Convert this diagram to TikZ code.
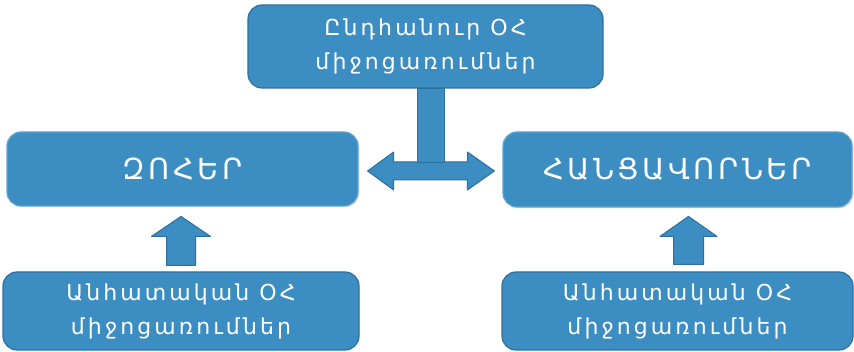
\documentclass[tikz,border=0pt]{standalone}
\usepackage{fontspec}
\newfontfamily\armfont[LetterSpace=14]{DejaVu Sans}
\newfontfamily\armcaps[LetterSpace=12]{DejaVu Sans}
\usetikzlibrary{calc}
\usetikzlibrary{shadows}
\definecolor{boxblue}{RGB}{60,141,193}
\definecolor{boxedge}{RGB}{45,112,158}

\begin{document}
\begin{tikzpicture}[x = 1pt, y = -1pt, line join = round,
  box/.style = {fill = boxblue, draw = boxedge, line width = 1.2pt,
    rounded corners = 14pt, inner sep = 0, text = white, align = center,
    font = \armfont\fontsize{22}{34}\selectfont},
  title/.style = {box, draw = boxblue!80!white,
    font = \armcaps\fontsize{29}{30}\selectfont,
    drop shadow = {shadow xshift = 1.5pt, shadow yshift = -1.5pt,
      fill = black!20}},
  blockarrow/.style = {fill = boxblue, draw = boxedge, line width = 1pt}]
  \useasboundingbox (0, 0) rectangle (854, 352);

  \node[box, minimum width = 355, minimum height = 83] (common)
  at (425.5, 46.5) {Ընդհանուր ՕՀ\\միջոցառումներ};
  \node[title, minimum width = 351, minimum height = 74] (victims)
  at (182.5, 169) {ԶՈՀԵՐ};
  \node[title, minimum width = 349, minimum height = 75] (criminals)
  at (677.5, 169.5) {ՀԱՆՑԱՎՈՐՆԵՐ};
  \node[box, minimum width = 356, minimum height = 78] (indleft)
  at (181, 311) {Անհատական ՕՀ\\միջոցառումներ};
  \node[box, minimum width = 351, minimum height = 78] (indright)
  at (677.5, 311) {Անհատական ՕՀ\\միջոցառումներ};

  \coordinate (L) at ($(victims.east) + (9, 2)$);
  \coordinate (R) at ($(criminals.west) + (-8, 1.5)$);
  \draw[blockarrow] (L) -- ++(26, -19) -- ++(0, 10) -- ($(R) + (-27, -9)$)
  -- ++(0, -10) -- (R) -- ++(-27, 19) -- ++(0, -10) -- ($(L) + (26, 9)$)
  -- ++(0, 10) -- cycle;
  \draw[blockarrow] ($(common.south) + (-8.5, 0)$) rectangle
  ($(common.south) + (18.5, 74)$);

  \draw[blockarrow] ($(indleft.north) + (-14.5, -6)$) -- ++(0, -29)
  -- ++(-15, 0) -- ++(29.5, -20) -- ++(29.5, 20) -- ++(-15, 0)
  -- ++(0, 29) -- cycle;
  \draw[blockarrow] ($(indright.north) + (-4, -7)$) -- ++(0, -28)
  -- ++(-13.5, 0) -- ++(28.5, -20) -- ++(28.5, 20) -- ++(-13.5, 0)
  -- ++(0, 28) -- cycle;
\end{tikzpicture}
\end{document}
